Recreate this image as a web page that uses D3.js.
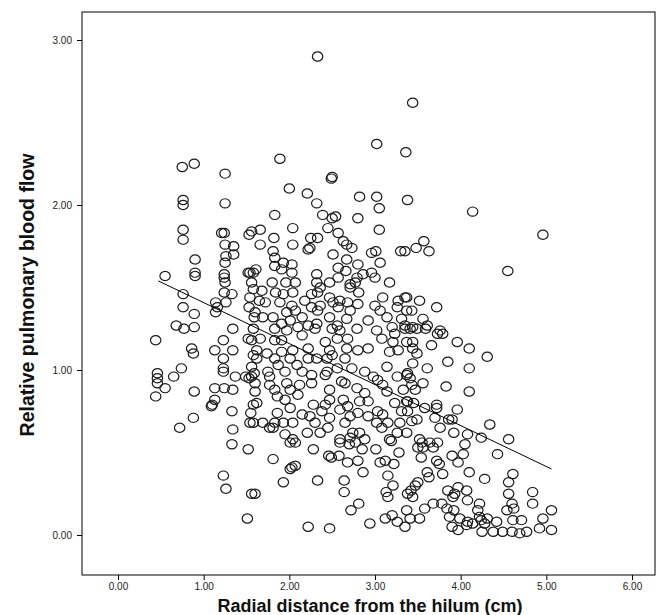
<!DOCTYPE html>
<html>
<head>
<meta charset="utf-8">
<script src="https://d3js.org/d3.v7.min.js"></script>
<style>
  html, body { margin: 0; padding: 0; background: #fff; }
  svg { display: block; }
</style>
</head>
<body>
<svg id="chart" width="662" height="615"></svg>
<script>
// ---- data ----
const xTicks = [0, 1, 2, 3, 4, 5, 6];
const yTicks = [0, 1, 2, 3];
const xTitle = "Radial distance from the hilum (cm)";
const yTitle = "Relative pulmonary blood flow";
// fitted regression line end points [distance, flow]
const fitLineX = [0.47, 5.06];
const fitLineY = [1.54, 0.40];
// observations: [radial distance (cm), relative blood flow]
const observations = [
[2.33,2.90],[3.44,2.62],[3.02,2.37],[3.36,2.32],[1.89,2.28],[0.75,2.23],[0.89,2.25],[1.25,2.19],
[2.49,2.16],[2.50,2.17],[2.00,2.10],[2.21,2.07],[2.82,2.05],[3.02,2.05],[3.38,2.03],[2.32,2.01],
[0.76,2.03],[0.76,2.00],[1.25,2.01],[0.76,1.85],[0.76,1.79],[1.21,1.83],[1.24,1.83],[1.53,1.82],
[1.25,1.76],[1.35,1.75],[1.35,1.70],[1.26,1.69],[1.25,1.65],[0.90,1.67],[0.90,1.59],[0.90,1.57],
[0.55,1.57],[1.24,1.58],[1.24,1.56],[1.52,1.59],[1.58,1.59],[1.25,1.53],[1.24,1.47],[1.33,1.46],
[1.58,1.49],[0.76,1.46],[1.26,1.41],[1.14,1.41],[1.16,1.38],[1.14,1.35],[0.76,1.38],[0.89,1.34],
[1.53,1.38],[0.68,1.27],[0.77,1.25],[0.89,1.26],[1.34,1.25],[1.59,1.32],
[0.44,1.18],[1.52,1.19],[1.56,1.18],[1.23,1.18],[0.86,1.13],[0.88,1.10],[1.13,1.12],[1.34,1.12],
[1.23,1.07],[1.58,1.09],[0.74,1.01],[0.65,0.96],[0.46,0.98],[0.46,0.95],[0.46,0.92],[0.55,0.89],
[0.44,0.84],[1.23,1.01],[1.23,0.99],[1.37,0.96],[1.49,0.96],[1.53,0.95],[1.59,0.98],[0.89,0.87],
[1.13,0.89],[1.24,0.89],[1.34,0.88],[1.13,0.82],[1.10,0.79],[1.09,0.78],[1.58,0.79],[1.33,0.75],
[0.88,0.71],[0.72,0.65],[1.34,0.64],[1.55,0.74],[1.54,0.68],[1.33,0.55],
[1.52,0.52],[1.23,0.36],[1.26,0.28],[1.56,0.25],[1.51,0.10],
[2.01,0.56],[2.07,0.56],[2.28,0.52],[2.59,0.56],[2.70,0.55],[2.77,0.56],[2.85,0.52],[3.01,0.52],
[3.19,0.57],[3.28,0.50],[1.81,0.46],[2.46,0.48],[2.49,0.47],[2.58,0.48],[2.68,0.44],[2.80,0.45],
[3.06,0.44],[3.12,0.45],[3.22,0.43],[2.07,0.42],[2.03,0.41],[2.01,0.40],[2.86,0.38],[3.15,0.36],
[1.93,0.32],[2.33,0.33],[2.64,0.33],[3.21,0.30],[3.38,0.25],[1.60,0.25],[2.64,0.26],[3.13,0.26],
[3.15,0.23],[2.81,0.19],[2.72,0.15],[3.37,0.15],[3.20,0.12],[3.12,0.10],[3.26,0.08],[3.35,0.05],
[2.94,0.07],[2.22,0.05],[2.47,0.04],
[3.55,0.56],[3.64,0.56],[3.73,0.56],[3.50,0.53],[3.56,0.53],[3.68,0.53],[4.05,0.55],[3.54,0.47],
[3.90,0.48],[4.03,0.49],[3.97,0.44],[4.43,0.49],[3.72,0.45],[3.75,0.43],[4.10,0.38],[3.61,0.38],
[3.63,0.35],[3.79,0.37],[4.28,0.34],[4.61,0.37],[4.56,0.32],[3.50,0.32],[3.47,0.30],[3.42,0.27],
[3.44,0.23],[3.85,0.27],[3.97,0.29],[4.07,0.27],[3.93,0.25],[3.91,0.23],[4.56,0.25],[4.84,0.26],
[4.84,0.19],[4.08,0.21],[4.22,0.19],[4.60,0.19],[4.62,0.16],[4.54,0.15],[5.06,0.15],[3.58,0.16],
[3.68,0.19],[3.78,0.19],[3.84,0.16],[3.92,0.15],[4.20,0.15],[4.22,0.11],[3.41,0.10],[3.52,0.10],
[3.87,0.11],[3.99,0.10],[4.08,0.08],[4.24,0.09],[4.31,0.10],[4.28,0.07],[4.14,0.07],[4.42,0.08],
[4.61,0.09],[4.71,0.09],[4.96,0.10],[3.90,0.05],[3.97,0.03],[4.07,0.06],[4.25,0.02],[4.38,0.02],
[4.49,0.02],[4.60,0.02],[4.69,0.01],[4.77,0.02],[4.92,0.04],[5.06,0.03],
[3.41,1.25],[3.49,1.25],[3.59,1.25],[3.73,1.22],[3.79,1.22],[3.96,1.17],[4.10,1.13],[4.31,1.08],
[3.44,1.17],[3.44,1.13],[3.49,1.10],[3.66,1.15],[3.85,1.05],[3.44,1.04],[3.61,1.01],[4.10,1.01],
[3.38,0.98],[3.41,0.95],[3.43,0.91],[3.47,0.88],[3.56,0.92],[3.83,0.90],[4.10,0.87],[3.38,0.81],
[3.45,0.80],[3.58,0.77],[3.72,0.79],[3.72,0.77],[3.96,0.76],[3.38,0.75],[3.43,0.69],[3.49,0.70],
[3.70,0.71],[3.76,0.65],[3.86,0.70],[3.90,0.70],[4.34,0.67],[3.92,0.62],[4.08,0.61],[4.24,0.59],
[4.56,0.58],[3.52,0.58],
[4.14,1.96],[4.96,1.82],[3.57,1.78],[3.48,1.74],[3.63,1.72],[3.35,1.72],[4.55,1.60],[3.37,1.44],
[3.52,1.42],[3.43,1.36],[3.72,1.38],[3.56,1.31],[3.44,1.26],[3.61,1.27],[3.76,1.24],
[1.83,1.94],[2.39,1.94],[2.50,1.92],[2.54,1.93],[2.80,1.92],[3.05,1.98],[2.04,1.86],[1.66,1.85],
[1.56,1.84],[2.45,1.86],[3.05,1.85],[1.82,1.80],[2.57,1.83],[2.25,1.80],[2.33,1.80],[1.66,1.76],
[2.04,1.76],[2.63,1.78],[2.67,1.76],[2.73,1.74],[2.24,1.74],[2.22,1.73],[1.81,1.72],[2.51,1.70],
[2.96,1.71],[3.01,1.72],[3.30,1.72],[1.83,1.68],[3.06,1.65],[2.67,1.67],[1.93,1.65],[1.83,1.63],
[2.03,1.64],[2.57,1.62],[2.80,1.64],[1.61,1.61],[1.54,1.59],[1.91,1.61],[2.66,1.60],[2.03,1.59],
[2.96,1.59],[3.00,1.56],[2.32,1.58],[2.79,1.56],[2.86,1.58],[2.57,1.56],[3.17,1.53],[1.80,1.53],
[1.96,1.53],[2.07,1.53],[2.32,1.53],[2.36,1.50],[2.47,1.53],[2.71,1.52],[2.77,1.53],[1.56,1.53],
[1.68,1.48],[2.71,1.50],[1.84,1.47],[1.93,1.46],[2.04,1.47],[2.26,1.46],[2.33,1.47],[2.81,1.47],
[3.09,1.44],[3.27,1.42],[3.35,1.44],[1.54,1.44],[1.65,1.42],[1.72,1.41],[2.47,1.44],[2.51,1.41],
[2.59,1.42],[2.68,1.41],[2.18,1.42],[3.00,1.39],[3.06,1.36],[3.26,1.38],[1.89,1.41],[2.03,1.39],
[2.07,1.36],[2.26,1.38],[2.33,1.36],[2.36,1.39],[2.57,1.38],[2.71,1.36],[2.80,1.40],[1.60,1.35],
[1.69,1.32],[1.81,1.32],[1.97,1.35],[2.15,1.32],[2.47,1.32],[2.67,1.31],[2.92,1.30],[3.14,1.32],
[3.31,1.31],[3.37,1.36],[1.91,1.28],[2.01,1.30],[2.22,1.27],[2.32,1.28],[2.56,1.27],[3.20,1.26],
[3.35,1.27],
[1.58,1.25],[1.66,1.19],[1.83,1.25],[1.97,1.24],[2.10,1.26],[1.83,1.18],[1.91,1.18],[2.15,1.21],
[2.30,1.25],[2.50,1.25],[2.59,1.24],[2.79,1.25],[2.42,1.17],[2.56,1.19],[2.68,1.19],[3.02,1.24],
[3.08,1.19],[2.92,1.13],[3.23,1.22],[3.21,1.17],[3.35,1.25],[3.37,1.17],[1.62,1.12],[1.74,1.10],
[1.62,1.07],[1.91,1.11],[2.04,1.12],[2.22,1.13],[2.47,1.12],[2.50,1.09],[2.44,1.07],[2.67,1.13],
[2.80,1.12],[2.65,1.07],[3.17,1.11],[3.27,1.12],[1.83,1.07],[1.87,1.03],[2.01,1.07],[2.09,1.03],
[2.22,1.07],[2.32,1.07],[3.14,1.02],[2.56,1.01],[1.56,1.02],[1.56,0.96],[1.75,0.99],[1.77,0.96],
[1.95,0.99],[2.15,0.99],[2.26,0.97],[2.44,0.99],[2.42,0.97],[2.61,0.93],[2.73,1.01],[2.88,0.99],
[2.98,0.96],[3.03,0.94],[3.26,0.96],[3.37,0.97],[1.77,0.91],[1.83,0.88],[1.97,0.92],[2.01,0.88],
[2.12,0.91],[2.26,0.92],[1.60,0.92],[1.60,0.87],[2.47,0.88],[2.65,0.92],[2.79,0.89],[2.88,0.86],
[3.09,0.91],[3.14,0.87],[3.33,0.88],[1.86,0.84],[1.95,0.82],[2.10,0.85],[2.47,0.82],[2.42,0.79],
[2.63,0.82],[2.82,0.81],[2.92,0.81],[3.23,0.80],[3.37,0.81],[1.62,0.80],[2.01,0.77],[2.28,0.79],
[2.59,0.76],[2.68,0.78],[3.03,0.75],[3.09,0.73],[3.31,0.75],[1.86,0.74],[2.15,0.73],[2.24,0.72],
[2.38,0.75],[2.47,0.71],[2.71,0.72],[2.80,0.74],[2.92,0.72],[1.58,0.68],[1.69,0.68],[1.83,0.68],
[1.93,0.68],[2.04,0.68],[2.30,0.68],[2.65,0.68],[3.02,0.68],[3.15,0.68],[3.29,0.68],[1.77,0.65],
[1.81,0.65],[2.21,0.62],[2.36,0.62],[2.45,0.65],[2.74,0.62],[2.82,0.62],[3.08,0.65],[3.26,0.62],
[3.37,0.62],[1.95,0.61],[2.04,0.58],[2.59,0.58],[2.71,0.59],[2.88,0.58],[3.17,0.58]
];

// ---- layout ----
const svg = d3.select("#chart");
const frame = { left: 82, right: 655, top: 12, bottom: 575 };

const x = d3.scaleLinear().domain([-0.4202, 6.2685]).range([frame.left, frame.right]);
const y = d3.scaleLinear().domain([-0.2424, 3.1697]).range([frame.bottom, frame.top]);

// frame
svg.append("rect")
  .attr("x", frame.left).attr("y", frame.top)
  .attr("width", frame.right - frame.left).attr("height", frame.bottom - frame.top)
  .attr("fill", "#fff").attr("stroke", "#000").attr("stroke-width", 1);

// axes
const fmt = d3.format(".2f");
const gx = svg.append("g").attr("transform", `translate(0,${frame.bottom})`)
  .call(d3.axisBottom(x).tickValues(xTicks).tickFormat(fmt).tickSize(5).tickPadding(3));
const gy = svg.append("g").attr("transform", `translate(${frame.left},0)`)
  .call(d3.axisLeft(y).tickValues(yTicks).tickFormat(fmt).tickSize(5).tickPadding(5));
[gx, gy].forEach(g => {
  g.select(".domain").remove();
  g.selectAll(".tick line").attr("stroke", "#000");
  g.selectAll(".tick text").attr("fill", "#222")
    .style("font-family", "Liberation Sans, Arial, sans-serif").style("font-size", "10px");
});

// points
svg.append("g").selectAll("ellipse").data(observations).join("ellipse")
  .attr("cx", d => x(d[0])).attr("cy", d => y(d[1]))
  .attr("rx", 5.2).attr("ry", 4.6)
  .attr("fill", "none").attr("stroke", "#1a1a1a").attr("stroke-width", 1.2);

// fit line
svg.append("line")
  .attr("x1", x(fitLineX[0])).attr("y1", y(fitLineY[0]))
  .attr("x2", x(fitLineX[1])).attr("y2", y(fitLineY[1]))
  .attr("stroke", "#000").attr("stroke-width", 1);

// titles
svg.append("text")
  .attr("x", 370).attr("y", 611.5)
  .attr("text-anchor", "middle")
  .style("font-family", "Liberation Sans, Arial, sans-serif")
  .style("font-weight", "bold").style("font-size", "18px").attr("fill", "#111")
  .text(xTitle);
svg.append("text")
  .attr("transform", `translate(34,295) rotate(-90)`)
  .attr("text-anchor", "middle")
  .style("font-family", "Liberation Sans, Arial, sans-serif")
  .style("font-weight", "bold").style("font-size", "19.5px").attr("fill", "#111")
  .text(yTitle);
</script>
</body>
</html>
